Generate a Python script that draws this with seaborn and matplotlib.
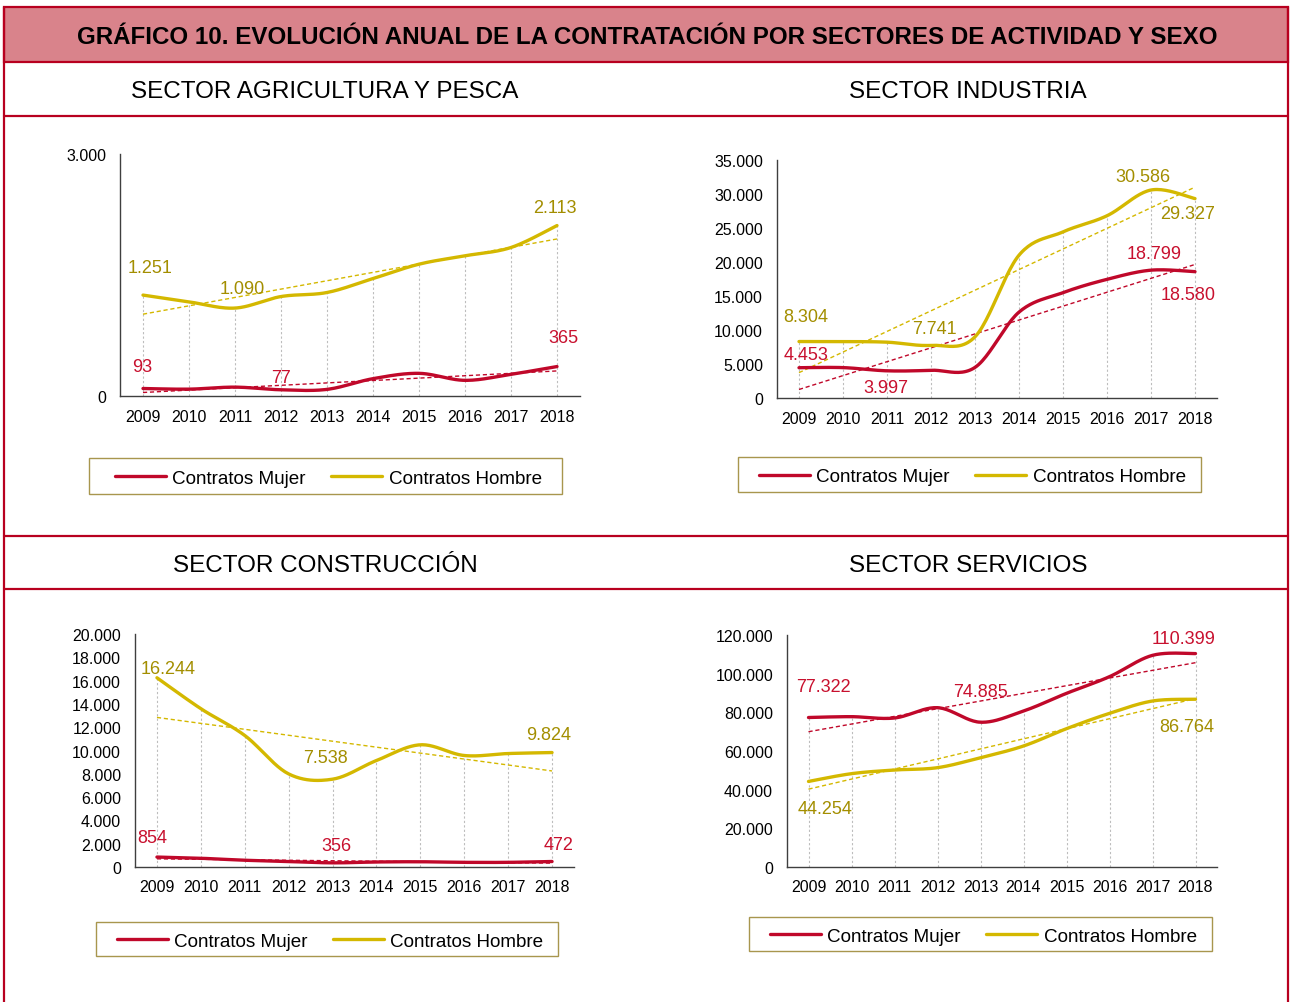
import numpy as np
import pandas as pd
import matplotlib
matplotlib.use("Agg")
import matplotlib.pyplot as plt
import seaborn as sns
from matplotlib.lines import Line2D
from matplotlib.patches import Rectangle
from matplotlib.ticker import FuncFormatter

# datos
years = [2009, 2010, 2011, 2012, 2013, 2014, 2015, 2016, 2017, 2018]

agri_mujer = [93, 85, 110, 77, 82, 215, 281, 194, 269, 365]
agri_hombre = [1251, 1167, 1090, 1233, 1283, 1456, 1634, 1738, 1841, 2113]

ind_mujer = [4453, 4470, 3997, 4080, 4500, 12630, 15490, 17450, 18799, 18580]
ind_hombre = [8304, 8300, 8210, 7741, 9000, 21000, 24430, 26800, 30586, 29327]

cons_mujer = [854, 750, 580, 470, 356, 430, 450, 400, 400, 472]
cons_hombre = [16244, 13590, 11290, 7990, 7538, 9140, 10490, 9570, 9740, 9824]

serv_mujer = [77322, 77760, 77070, 82410, 74885, 80690, 89830, 98450, 109480, 110399]
serv_hombre = [44254, 48280, 50170, 51380, 56550, 62590, 71550, 79480, 85860, 86764]

titulo = "GRÁFICO 10. EVOLUCIÓN ANUAL DE LA CONTRATACIÓN POR SECTORES DE ACTIVIDAD Y SEXO"
sectores = ["SECTOR AGRICULTURA Y PESCA", "SECTOR INDUSTRIA",
            "SECTOR CONSTRUCCIÓN", "SECTOR SERVICIOS"]
series_nombres = ["Contratos Mujer", "Contratos Hombre"]

# colores
ROJO = "#C0082A"
ROJO_TXT = "#C8102E"
AMARILLO = "#D4B800"
AMARILLO_TXT = "#A38E00"
BORDE = "#B8001F"

sns.set_theme(style="white")
plt.rcParams['font.family'] = ['Liberation Sans', 'DejaVu Sans']

W, H = 1290, 1003
fig = plt.figure(figsize=(W / 100, H / 100), dpi=100)


def px_axes(left, top, right, bottom):
    return fig.add_axes([left / W, 1 - bottom / H, (right - left) / W, (bottom - top) / H])


def fx(x):
    return x / W


def fy(y):
    return 1 - y / H


def suavizar(vals, n=24):
    # curva suavizada tipo Excel (Bezier / Catmull-Rom) que pasa por los puntos
    v = np.asarray(vals, dtype=float)
    k = len(v)
    xs, ys = [], []
    for i in range(k - 1):
        p0 = v[i - 1] if i > 0 else v[i]
        p1, p2 = v[i], v[i + 1]
        p3 = v[i + 2] if i + 2 < k else v[i + 1]
        x0 = i - 1 if i > 0 else i
        x3 = i + 2 if i + 2 < k else i + 1
        c1y = p1 + (p2 - p0) / 6
        c2y = p2 - (p3 - p1) / 6
        c1x = i + ((i + 1) - x0) / 6
        c2x = (i + 1) - (x3 - i) / 6
        t = np.linspace(0, 1, n, endpoint=(i == k - 2))
        b0, b1, b2, b3 = (1 - t) ** 3, 3 * (1 - t) ** 2 * t, 3 * (1 - t) * t ** 2, t ** 3
        xs.append(b0 * i + b1 * c1x + b2 * c2x + b3 * (i + 1))
        ys.append(b0 * p1 + b1 * c1y + b2 * c2y + b3 * p2)
    return np.concatenate(xs), np.concatenate(ys)


fmt = lambda v: f"{int(round(v)):,}".replace(",", ".")

# marco general
fig.add_artist(Rectangle((fx(4), fy(63)), fx(1288) - fx(4), fy(8) - fy(63),
                         transform=fig.transFigure, facecolor="#D9838B",
                         edgecolor=BORDE, lw=1.6))
for yy in [117, 537, 590]:
    fig.add_artist(Line2D([fx(4), fx(1288)], [fy(yy), fy(yy)], transform=fig.transFigure,
                          color=BORDE, lw=1.6))
for xx in [4, 1288]:
    fig.add_artist(Line2D([fx(xx), fx(xx)], [fy(8), fy(1003)], transform=fig.transFigure,
                          color=BORDE, lw=1.6))

fig.text(fx(647), fy(38), titulo, ha="center", va="center", fontsize=17.4,
         fontweight="bold", color="black")
for nombre, (cx, cy) in zip(sectores, [(325, 92), (968, 92), (325, 566), (968, 566)]):
    fig.text(fx(cx), fy(cy), nombre, ha="center", va="center", fontsize=17.5, color="black")

paneles = [
    dict(m=agri_mujer, h=agri_hombre, box=(120, 155, 580, 397), ymax=3000, paso=3000,
         leg=(89, 459, 562, 495),
         etiquetas=[("h", 0, 7, -28), ("h", 2, 7, -20), ("h", 9, -2, -18),
                    ("m", 0, -1, -22), ("m", 3, 0, -12), ("m", 9, 6, -29)]),
    dict(m=ind_mujer, h=ind_hombre, box=(777, 161, 1217, 399), ymax=35000, paso=5000,
         leg=(738, 458, 1201, 493),
         etiquetas=[("h", 0, 7, -25), ("h", 3, 3, -17), ("h", 8, -8, -14), ("h", 9, -7, 15),
                    ("m", 0, 7, -13), ("m", 2, -1, 17), ("m", 8, 3, -17), ("m", 9, -7, 23)]),
    dict(m=cons_mujer, h=cons_hombre, box=(135, 635, 574, 868), ymax=20000, paso=2000,
         leg=(96, 923, 558, 957),
         etiquetas=[("h", 0, 11, -9), ("h", 4, -7, -22), ("h", 9, -3, -18),
                    ("m", 0, -5, -20), ("m", 4, 4, -17), ("m", 9, 7, -17)]),
    dict(m=serv_mujer, h=serv_hombre, box=(787, 636, 1217, 868), ymax=120000, paso=20000,
         leg=(749, 918, 1212, 952),
         etiquetas=[("m", 0, 15, -31), ("m", 4, 0, -31), ("m", 9, -12, -15),
                    ("h", 0, 17, 27), ("h", 9, -9, 27)]),
]

x_idx = np.arange(len(years))

for p in paneles:
    ax = px_axes(*p["box"])
    mujer, hombre = p["m"], p["h"]

    # lineas de proyeccion
    tops = np.maximum(mujer, hombre)
    ax.vlines(x_idx, 0, tops, colors="#BDBDBD", lw=0.8, linestyles=(0, (2, 2)), zorder=0)

    # tendencias lineales
    for vals, col in [(mujer, ROJO), (hombre, AMARILLO)]:
        sns.regplot(x=x_idx, y=np.asarray(vals, float), ax=ax, scatter=False, ci=None,
                    line_kws=dict(color=col, lw=1.0, ls=(0, (3, 2))))

    # series suavizadas
    for vals, col in [(hombre, AMARILLO), (mujer, ROJO)]:
        xs, ys = suavizar(vals)
        df = pd.DataFrame({"x": xs, "y": ys})
        sns.lineplot(data=df, x="x", y="y", ax=ax, color=col, lw=2.4, sort=False,
                     estimator=None, zorder=3)

    # etiquetas de datos
    for serie, i, dx, dy in p["etiquetas"]:
        vals = mujer if serie == "m" else hombre
        col = ROJO_TXT if serie == "m" else AMARILLO_TXT
        ax.annotate(fmt(vals[i]), (i, vals[i]), xytext=(dx, -dy), textcoords="offset pixels",
                    ha="center", va="center", fontsize=13, color=col, zorder=5)

    ax.set_xlim(-0.5, len(years) - 0.5)
    ax.set_ylim(0, p["ymax"])
    ax.set_xticks(x_idx)
    ax.set_xticklabels([str(y) for y in years])
    ax.set_yticks(np.arange(0, p["ymax"] + 1, p["paso"]))
    ax.yaxis.set_major_formatter(FuncFormatter(lambda v, pos: fmt(v)))
    ax.set_xlabel("")
    ax.set_ylabel("")
    ax.grid(False)
    ax.set_facecolor("none")
    sns.despine(ax=ax)
    for s in ["left", "bottom"]:
        ax.spines[s].set_color("#3F3F3F")
        ax.spines[s].set_linewidth(1.0)
    ax.tick_params(axis="both", length=0, labelsize=11.5, labelcolor="black")
    ax.tick_params(axis="x", pad=9)
    ax.tick_params(axis="y", pad=10)

    # leyenda
    l, t, r, b = p["leg"]
    fig.add_artist(Rectangle((fx(l), fy(b)), fx(r) - fx(l), fy(t) - fy(b),
                             transform=fig.transFigure, facecolor="none",
                             edgecolor="#A8964E", lw=1.0))
    handles = [Line2D([], [], color=ROJO, lw=2.4), Line2D([], [], color=AMARILLO, lw=2.4)]
    leg = ax.legend(handles, series_nombres, loc="center",
                    bbox_to_anchor=(fx((l + r) / 2 + 3), fy((t + b) / 2 + 2)),
                    bbox_transform=fig.transFigure, ncol=2, frameon=False, fontsize=13.6,
                    handlelength=2.7, handletextpad=0.33, columnspacing=1.35)
    for txt in leg.get_texts():
        txt.set_color("black")

fig.savefig("out.png", dpi=100)
